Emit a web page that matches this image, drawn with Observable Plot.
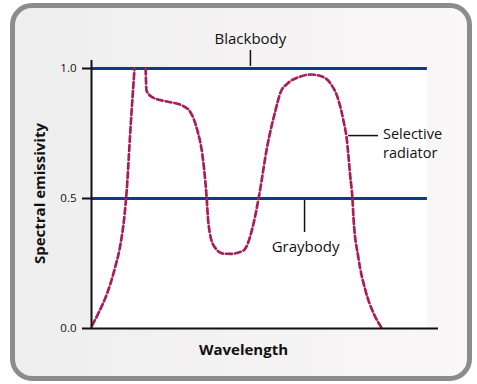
<!DOCTYPE html>
<html>
<head>
<meta charset="utf-8">
<script src="https://cdn.jsdelivr.net/npm/d3@7"></script>
<script src="https://cdn.jsdelivr.net/npm/@observablehq/plot@0.6"></script>
<style>
  html, body { margin: 0; padding: 0; background: #ffffff; }
  #wrap { position: relative; width: 477px; height: 384px; overflow: hidden; }
  #panel {
    position: absolute; left: 10px; top: 3px; width: 462px; height: 378px;
    box-sizing: border-box; border: 5px solid #8c8c8c; border-radius: 22px;
    background: linear-gradient(to right, #efeeee, #f9f7f8);
  }
  #chart { position: absolute; left: 0; top: 0; }
</style>
</head>
<body>
<div id="wrap"><div id="panel"></div><div id="chart"></div></div>
<script>
// Selective radiator curve (wavelength in arbitrary units 0..100, emissivity 0..1); null = break
const selWavelength = [0.2, 2.1, 4.5, 6.9, 8.4, 9.55, 10.15, 11.2, 12.4,
  null,
  15.6, 15.85, 17.5, 21.3, 26.1, 28.5, 30.5, 31.9, 33.1, 33.7, 35.2, 38.0, 40.1, 43.8, 46.7, 48.4,
  50.6, 53.0, 54.5, 56.4, 60.2, 63.1, 66.0, 68.9, 71.2, 72.6, 73.5, 74.6, 75.2, 75.5, 76.9, 78.96, 81.3, 83.5];
const selEmissivity = [0.012, 0.062, 0.135, 0.240, 0.327, 0.440, 0.531, 0.762, 1.0,
  null,
  1.0, 0.915, 0.890, 0.874, 0.858, 0.832, 0.762, 0.673, 0.519, 0.404, 0.319, 0.288, 0.287, 0.300, 0.404, 0.519,
  0.697, 0.838, 0.909, 0.941, 0.969, 0.977, 0.971, 0.942, 0.877, 0.800, 0.735, 0.581, 0.500, 0.427, 0.273, 0.146, 0.058, 0.005];

// Reference emitters
const refNames = ["Blackbody", "Graybody"];
const refEmissivity = [1.0, 0.5];
const refEnd = 96.8;          // wavelength where reference lines end
const xAxisEnd = 100;
const yAxisTop = 1.031;

// Tick labels
const yTicks = [0, 0.5, 1.0];

// Centered annotations
const midLabelTexts = ["Blackbody", "Graybody"];
const midLabelX = [45.8, 61.7];
const midLabelY = [1.111, 0.312];
// Left-aligned annotation (two lines)
const sideLabelTexts = ["Selective", "radiator"];
const sideLabelX = [84.0, 84.0];
const sideLabelY = [0.745, 0.673];

const leaderVX = [45.8, 61.4];
const leaderVY1 = [1.008, 0.492];
const leaderVY2 = [1.069, 0.369];
const leaderHY = [0.742];
const leaderHX1 = [74.1];
const leaderHX2 = [82.7];

const xTitle = "Wavelength";
const yTitle = "Spectral emissivity";

const curve = selWavelength.map((x, i) => ({x, y: selEmissivity[i]}));
const refs = refNames.map((name, i) => ({name, y: refEmissivity[i]}));
const midLabels = midLabelTexts.map((t, i) => ({t, x: midLabelX[i], y: midLabelY[i]}));
const sideLabels = sideLabelTexts.map((t, i) => ({t, x: sideLabelX[i], y: sideLabelY[i]}));
const vLeaders = leaderVX.map((x, i) => ({x, y1: leaderVY1[i], y2: leaderVY2[i]}));
const hLeaders = leaderHY.map((y, i) => ({y, x1: leaderHX1[i], x2: leaderHX2[i]}));

const font = "'Open Sans', 'Noto Sans', sans-serif";

const plot = Plot.plot({
  width: 477,
  height: 384,
  marginLeft: 91,
  marginRight: 39,
  marginTop: 68,
  marginBottom: 56,
  style: {background: "transparent", fontFamily: font, overflow: "visible", color: "#111"},
  x: {domain: [0, 100], axis: null},
  y: {domain: [0, 1], axis: null},
  marks: [
    Plot.rect([{}], {x1: 0, x2: refEnd, y1: 0, y2: 1, fill: "white"}),
    Plot.ruleY(refs, {y: "y", x1: 0, x2: refEnd, stroke: "#0c3a8d", strokeWidth: 3}),
    Plot.line(curve, {x: "x", y: "y", curve: "monotone-x", stroke: "#a61f5a", strokeWidth: 2.7, strokeDasharray: "6,3"}),
    Plot.ruleX([0], {y1: 0, y2: yAxisTop, stroke: "#111", strokeWidth: 2}),
    Plot.ruleY([0], {x1: 0, x2: xAxisEnd, stroke: "#111", strokeWidth: 2}),
    Plot.axisY({ticks: yTicks, tickFormat: d3.format(".1f"), tickSize: 9, tickPadding: 6, fontSize: 11.5, label: null, stroke: "#111", strokeWidth: 2, fill: "#111"}),
    Plot.ruleX(vLeaders, {x: "x", y1: "y1", y2: "y2", stroke: "#111", strokeWidth: 1.5}),
    Plot.ruleY(hLeaders, {y: "y", x1: "x1", x2: "x2", stroke: "#111", strokeWidth: 1.5}),
    Plot.text(midLabels, {x: "x", y: "y", text: "t", textAnchor: "middle", fontSize: 15, fill: "#111"}),
    Plot.text(sideLabels, {x: "x", y: "y", text: "t", textAnchor: "start", fontSize: 14.5, fill: "#111"}),
    Plot.text([xTitle], {x: 43.8, y: -0.085, text: d => d, fontSize: 15, fontWeight: "bold", fill: "#111"}),
    Plot.text([yTitle], {x: -14.9, y: 0.519, text: d => d, rotate: -90, fontSize: 15, fontWeight: "bold", fill: "#111"})
  ]
});
document.getElementById("chart").appendChild(plot);
</script>
</body>
</html>
